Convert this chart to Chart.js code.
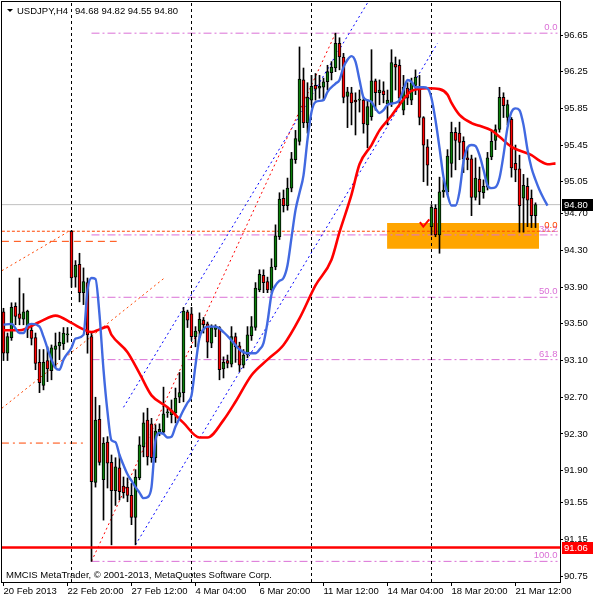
<!DOCTYPE html>
<html>
<head>
<meta charset="utf-8">
<script src="https://cdn.jsdelivr.net/npm/chart.js@4.4.0/dist/chart.umd.min.js"></script>
<style>
  html, body { margin: 0; padding: 0; background: #fff; }
  canvas { display: block; }
</style>
</head>
<body>
<canvas id="chart" width="600" height="600"></canvas>
<script>
// USDJPY H4 bars, index 0 = 20 Feb 2013 04:00
const opens = [
  93.63, 93.18, 93.35, 93.69, 93.61, 93.55, 93.44, 93.43, 93.35, 93.08,
  92.83, 93.10, 92.99, 93.22, 93.26, 93.28, 93.38, 94.51, 94.01, 94.15,
  93.84, 93.95, 93.36, 91.77, 92.46, 91.80, 92.21, 91.99, 91.68, 91.93,
  91.73, 91.72, 91.63, 91.39, 91.82, 92.16, 92.45, 92.41, 92.04, 92.32,
  92.32, 92.53, 92.51, 92.53, 92.70, 92.75, 93.63, 93.61, 93.36, 93.42,
  93.54, 93.50, 93.29, 93.44, 93.46, 93.01, 93.10, 93.06, 93.36, 93.26,
  93.05, 93.16, 93.37, 93.46, 93.87, 94.03, 93.96, 93.87, 94.12, 94.45,
  94.87, 94.79, 94.98, 95.29, 95.49, 96.16, 95.69, 95.94, 96.10, 96.07,
  96.08, 96.14, 96.24, 96.29, 96.56, 96.41, 95.98, 96.02, 95.94, 95.94,
  95.94, 95.67, 95.76, 96.15, 96.02, 96.04, 95.90, 95.91, 96.33, 96.32,
  95.83, 96.07, 95.94, 96.10, 96.07, 95.75, 95.43, 94.56, 94.76, 94.47,
  94.94, 94.94, 95.25, 95.59, 95.58, 95.49, 95.31, 95.30, 94.88, 95.08,
  94.93, 94.99, 95.32, 95.50, 95.62, 95.97, 95.75, 95.73, 95.25, 95.19,
  94.87, 95.00, 94.87, 94.68
];
const highs = [
  93.67, 93.40, 93.73, 93.73, 94.00, 93.83, 93.65, 93.47, 93.40, 93.22,
  93.22, 93.25, 93.27, 93.40, 93.41, 93.46, 93.46, 94.52, 94.19, 94.27,
  94.11, 94.00, 93.40, 92.70, 92.61, 92.26, 92.27, 92.07, 92.04, 92.07,
  91.83, 91.82, 91.76, 91.91, 92.27, 92.53, 92.58, 92.47, 92.40, 92.41,
  92.81, 92.59, 92.67, 92.80, 92.97, 93.68, 93.65, 93.68, 93.47, 93.62,
  93.57, 93.52, 93.49, 93.49, 93.47, 93.14, 93.16, 93.47, 93.40, 93.30,
  93.22, 93.47, 93.58, 93.95, 94.09, 94.09, 94.01, 94.21, 94.58, 94.93,
  94.96, 95.09, 95.37, 95.61, 96.52, 96.29, 96.13, 96.21, 96.23, 96.21,
  96.18, 96.32, 96.36, 96.67, 96.62, 96.45, 96.08, 96.08, 96.02, 96.05,
  95.97, 95.94, 96.49, 96.17, 96.16, 96.14, 96.05, 96.49, 96.41, 96.38,
  96.21, 96.13, 96.18, 96.27, 96.21, 95.76, 95.51, 94.80, 94.80, 95.10,
  95.07, 95.40, 95.70, 95.64, 95.70, 95.54, 95.43, 95.34, 95.31, 95.21,
  95.07, 95.37, 95.61, 95.67, 96.08, 96.02, 95.94, 95.75, 95.45, 95.34,
  95.13, 95.09, 94.96, 94.82
];
const lows = [
  93.10, 93.10, 93.32, 93.49, 93.49, 93.49, 93.35, 93.27, 93.00, 92.75,
  92.78, 92.87, 92.89, 93.03, 93.11, 93.22, 93.30, 93.90, 93.90, 93.74,
  93.71, 93.18, 90.91, 91.72, 91.96, 91.36, 91.71, 91.09, 91.52, 91.58,
  91.60, 91.56, 91.31, 91.09, 91.80, 92.05, 91.96, 91.99, 91.99, 92.28,
  92.31, 92.48, 92.42, 92.42, 92.64, 92.65, 93.46, 93.32, 93.25, 93.35,
  93.40, 93.13, 93.24, 93.36, 92.89, 92.91, 93.02, 93.03, 93.08, 92.98,
  93.02, 93.13, 93.32, 93.43, 93.85, 93.84, 93.84, 93.84, 94.09, 94.42,
  94.72, 94.74, 94.94, 95.25, 95.45, 95.64, 95.58, 95.89, 95.94, 95.96,
  95.94, 96.05, 96.16, 96.25, 96.27, 95.91, 95.64, 95.67, 95.56, 95.81,
  95.58, 95.42, 95.72, 95.83, 95.89, 95.91, 95.67, 95.87, 96.05, 95.89,
  95.78, 95.89, 95.89, 96.00, 95.67, 95.05, 95.01, 94.47, 94.45, 94.27,
  94.88, 94.91, 95.10, 95.18, 95.29, 95.15, 95.18, 94.68, 94.85, 94.80,
  94.87, 94.96, 95.29, 95.40, 95.59, 95.75, 95.67, 95.10, 95.05, 94.50,
  94.50, 94.56, 94.55, 94.55
];
const closes = [
  93.18, 93.36, 93.68, 93.58, 93.56, 93.63, 93.64, 93.34, 93.07, 92.86,
  93.08, 93.01, 93.24, 93.26, 93.30, 93.40, 93.39, 94.00, 94.14, 93.84,
  93.96, 93.38, 91.78, 92.45, 91.99, 92.20, 91.98, 91.68, 91.94, 91.67,
  91.66, 91.63, 91.39, 91.83, 92.18, 92.42, 92.05, 92.04, 92.33, 92.35,
  92.52, 92.54, 92.56, 92.69, 92.75, 93.64, 93.54, 93.36, 93.42, 93.55,
  93.49, 93.30, 93.46, 93.47, 93.00, 93.08, 93.07, 93.36, 93.25, 93.05,
  93.16, 93.38, 93.47, 93.89, 94.04, 93.95, 93.87, 94.12, 94.46, 94.86,
  94.79, 94.98, 95.30, 95.52, 96.17, 95.69, 95.97, 96.09, 96.06, 96.09,
  96.14, 96.25, 96.30, 96.56, 96.41, 95.97, 96.03, 95.91, 95.92, 95.95,
  95.68, 95.87, 96.15, 96.02, 96.05, 96.00, 95.94, 96.35, 96.30, 95.96,
  96.08, 95.96, 96.13, 96.19, 95.75, 95.45, 95.23, 94.77, 94.47, 94.94,
  94.96, 95.33, 95.59, 95.50, 95.48, 95.30, 95.29, 94.88, 95.09, 94.94,
  95.00, 95.31, 95.49, 95.62, 95.97, 95.88, 95.89, 95.20, 95.18, 94.79,
  95.01, 94.85, 94.68, 94.80
];

// moving averages (bar index, price)
const fastBars = [0, 2, 4, 5, 6, 7, 9, 10, 12, 13, 14, 15, 17, 18, 20, 21, 22, 23, 24, 25,
  26, 27, 28, 29, 30, 31, 32, 33, 34, 35, 36, 37, 38, 39, 40, 41, 42, 43, 44, 45,
  46, 47, 48, 49, 50, 51, 53, 55, 57, 59, 61, 63, 64, 65, 66, 67, 68, 69, 70, 71,
  72, 73, 74, 75, 76, 77, 78, 80, 81, 83, 84, 85, 86, 87, 88, 89, 90, 91, 92, 93,
  94, 95, 96, 98, 99, 100, 101, 102, 103, 105, 106, 107, 108, 109, 110, 111, 112, 113, 114, 115,
  116, 117, 118, 119, 120, 121, 122, 123, 124, 125, 126, 127, 128, 129, 130, 131, 132, 133, 134, 135, 136];
const fastVals = [93.49, 93.50, 93.40, 93.40, 93.48, 93.50, 93.47, 93.36, 93.11, 93.02, 93.00, 93.11, 93.24, 93.34, 93.38, 93.87, 94.00, 93.99, 93.60, 93.00,
  92.54, 92.23, 92.21, 92.07, 91.96, 91.86, 91.79, 91.72, 91.66, 91.60, 91.61, 91.72, 92.23, 92.31, 92.30, 92.26, 92.27, 92.38, 92.47, 92.56,
  92.64, 92.72, 93.05, 93.35, 93.44, 93.47, 93.47, 93.41, 93.32, 93.22, 93.18, 93.18, 93.22, 93.29, 93.52, 93.82, 93.92, 93.97, 94.00, 94.14,
  94.44, 94.74, 94.93, 95.12, 95.51, 95.81, 95.92, 95.94, 96.03, 96.12, 96.16, 96.30, 96.38, 96.42, 96.36, 96.16, 95.97, 95.94, 95.92, 95.85,
  95.80, 95.83, 95.89, 95.91, 95.94, 96.05, 96.16, 96.14, 96.08, 96.08, 96.07, 95.96, 95.72, 95.42, 95.10, 94.91, 94.79, 94.79, 94.94, 95.27,
  95.42, 95.45, 95.44, 95.34, 95.18, 95.01, 94.98, 94.99, 95.09, 95.34, 95.64, 95.81, 95.85, 95.83, 95.67, 95.40, 95.20, 95.07, 94.96, 94.87, 94.79];
const slowBars = [0, 4, 9, 13, 17, 20, 22, 24, 26, 27, 31, 34, 37, 41, 45, 49, 51, 55, 58, 62,
  66, 70, 74, 78, 82, 84, 87, 89, 92, 94, 97, 99, 102, 106, 109, 111, 112, 114, 117, 119,
  122, 124, 127, 129, 132, 134, 136, 138];
const slowVals = [93.43, 93.43, 93.52, 93.59, 93.51, 93.44, 93.41, 93.44, 93.47, 93.38, 93.19, 92.96, 92.72, 92.59, 92.42, 92.26, 92.26, 92.45, 92.65, 92.94,
  93.11, 93.27, 93.56, 93.92, 94.20, 94.50, 94.91, 95.24, 95.45, 95.61, 95.77, 95.89, 96.04, 96.07, 96.06, 96.00, 95.91, 95.78, 95.69, 95.66,
  95.61, 95.54, 95.43, 95.39, 95.34, 95.28, 95.24, 95.25];

// x axis labels
const tickBars = [0, 16, 32, 48, 64, 80, 96, 112, 128];
const tickLabels = ["20 Feb 2013", "22 Feb 20:00", "27 Feb 12:00", "4 Mar 04:00", "6 Mar 20:00",
  "11 Mar 12:00", "14 Mar 04:00", "18 Mar 20:00", "21 Mar 12:00"];
// price axis labels
const priceTicks = [96.65, 96.25, 95.85, 95.45, 95.05, 94.70, 94.30, 93.90, 93.50, 93.10,
  92.70, 92.30, 91.90, 91.55, 91.15, 90.75];
// week separators (bar index)
const weekStarts = [17, 47, 77, 107];

// objects drawn on the chart
const fibLevels = [96.67, 94.47, 93.79, 93.11, 90.91];
const fibNames = ["0.0", "38.2", "50.0", "61.8", "100.0"];
const fibFrom = 22, fibTo = 138.5;
const orangeLevels = [94.51, 94.40, 92.20];
const orangeFrom = [-0.4, -0.4, -0.4];
const orangeTo = [138.5, 28.3, 20];
const supportLevel = 91.06;
const zoneTop = 94.60, zoneBottom = 94.32, zoneFrom = 95.9, zoneTo = 133.9;
const trendLines = [
  { from: [22, 90.91], to: [83, 96.67], color: '#ff0000' },
  { from: [33, 91.09], to: [108.5, 96.56], color: '#0000ff' },
  { from: [30, 92.59], to: [91, 97.00], color: '#0000ff' },
  { from: [-0.4, 94.08], to: [16, 94.50], color: '#ff4500' },
  { from: [-0.4, 92.58], to: [40.5, 94.01], color: '#ff4500' }
];
const checkBars = [104.1, 104.95, 106.45];
const checkVals = [94.61, 94.56, 94.64];

const xMin = -0.375, xMax = 139.125;
const yMin = 90.685, yMax = 97.01;
const FONT = '9.5px "Liberation Sans", Arial, sans-serif';
const FIB_COLOR = 'rgb(218,112,214)';

const last = closes.length - 1;
const bars = closes.map((c, i) => i);

function flat(v, a, b) { return [{ x: a, y: v }, { x: b, y: v }]; }
function lineDs(data, color, width, dash, order, extra) {
  return Object.assign({
    type: 'line', data: data, borderColor: color, borderWidth: width,
    borderDash: dash, pointRadius: 0, fill: false, order: order, tension: 0
  }, extra || {});
}

const datasets = [];
// zone rectangle
datasets.push(lineDs(flat(zoneTop, zoneFrom, zoneTo), 'rgba(0,0,0,0)', 0, [], 40,
  { fill: { target: { value: zoneBottom } }, backgroundColor: '#ffa500' }));
// fib levels
fibLevels.forEach(v => datasets.push(lineDs(flat(v, fibFrom, fibTo), FIB_COLOR, 1, [8, 3, 2, 3], 30)));
// orange levels
datasets.push(lineDs(flat(orangeLevels[0], orangeFrom[0], orangeTo[0]), '#ff4500', 1, [3, 2], 30));
datasets.push(lineDs(flat(orangeLevels[1], orangeFrom[1], orangeTo[1]), '#ff4500', 1, [7, 5], 30));
datasets.push(lineDs(flat(orangeLevels[2], orangeFrom[2], orangeTo[2]), '#ff4500', 1, [7, 4, 2, 4], 30));
// current price line
datasets.push(lineDs(flat(closes[last], xMin, xMax), '#c0c0c0', 1, [], 31));
// trend lines
trendLines.forEach(t => datasets.push(lineDs([{ x: t.from[0], y: t.from[1] }, { x: t.to[0], y: t.to[1] }], t.color, 1, [2, 3], 28)));
// week separators
weekStarts.forEach(b => datasets.push(lineDs([{ x: b, y: yMin }, { x: b, y: yMax }], '#000', 1, [3, 3], 26)));
// candles
datasets.push({
  type: 'bar', data: bars.map(i => ({ x: i, y: [lows[i], highs[i]] })),
  backgroundColor: '#000', barThickness: 1, grouped: false, order: 20
});
datasets.push({
  type: 'bar', data: bars.map(i => ({ x: i, y: [opens[i], closes[i]] })),
  backgroundColor: bars.map(i => closes[i] >= opens[i] ? '#0a7f0a' : '#ff0000'),
  borderColor: '#000', borderWidth: 1, borderSkipped: false, minBarLength: 1,
  barThickness: 3, grouped: false, order: 19
});
// support line
datasets.push(lineDs(flat(supportLevel, xMin, xMax), '#ff0000', 2.5, [], 10));
// moving averages
datasets.push(lineDs(slowBars.map((b, i) => ({ x: b, y: slowVals[i] })), '#ff0000', 2.6, [], 8,
  { cubicInterpolationMode: 'monotone' }));
datasets.push(lineDs(fastBars.map((b, i) => ({ x: b, y: fastVals[i] })), '#4169e1', 2.4, [], 7,
  { cubicInterpolationMode: 'monotone' }));
// check mark
datasets.push(lineDs(checkBars.map((b, i) => ({ x: b, y: checkVals[i] })), '#ff0000', 2, [], 5));

const overlay = {
  id: 'overlay',
  afterDraw(chart) {
    const ctx = chart.ctx, a = chart.chartArea;
    const x = chart.scales.x, y = chart.scales.y;
    ctx.save();
    ctx.strokeStyle = '#000';
    ctx.lineWidth = 1;
    ctx.strokeRect(a.left - 0.5, a.top - 0.5, a.right - a.left + 1, a.bottom - a.top + 1);

    ctx.font = FONT;
    // fib labels
    ctx.textAlign = 'right';
    ctx.textBaseline = 'bottom';
    ctx.fillStyle = FIB_COLOR;
    fibLevels.forEach((v, i) => ctx.fillText(fibNames[i], x.getPixelForValue(fibTo), y.getPixelForValue(v) - 1));
    ctx.fillStyle = '#ff4500';
    ctx.fillText('0.0', x.getPixelForValue(fibTo), y.getPixelForValue(orangeLevels[0]) - 1);

    // title
    ctx.textAlign = 'left';
    ctx.textBaseline = 'middle';
    ctx.fillStyle = '#000';
    ctx.beginPath();
    ctx.moveTo(7, 9); ctx.lineTo(13, 9); ctx.lineTo(10, 12); ctx.closePath();
    ctx.fill();
    ctx.fillText('USDJPY,H4', 17, 11);
    ctx.fillText([opens[last], highs[last], lows[last], closes[last]].map(v => v.toFixed(2)).join(' '), 75, 11);
    ctx.fillText('MMCIS MetaTrader, \u00a9 2001-2013, MetaQuotes Software Corp.', 6, 575);

    // price boxes on the axis
    [[closes[last], '#000'], [supportLevel, '#ff0000']].forEach(([v, c]) => {
      const py = Math.round(y.getPixelForValue(v));
      ctx.fillStyle = c;
      ctx.fillRect(a.right + 2, py - 6, 31, 12);
      ctx.fillStyle = '#fff';
      ctx.fillText(v.toFixed(2), a.right + 4, py);
    });
    ctx.restore();
  }
};

new Chart(document.getElementById('chart'), {
  type: 'bar',
  data: { datasets: datasets },
  options: {
    responsive: false,
    animation: false,
    devicePixelRatio: 1,
    layout: { padding: { top: 2, left: 2, right: 0, bottom: 0 } },
    plugins: { legend: { display: false }, tooltip: { enabled: false } },
    scales: {
      x: {
        type: 'linear', min: xMin, max: xMax, offset: false,
        afterBuildTicks: s => { s.ticks = tickBars.map(v => ({ value: v })); },
        afterFit: s => { s.height = 18; s.paddingLeft = 0; s.paddingRight = 0; },
        ticks: {
          autoSkip: false, maxRotation: 0, align: 'start', padding: 0, color: '#000',
          font: { family: '"Liberation Sans", Arial, sans-serif', size: 9.5 },
          callback: v => tickLabels[tickBars.indexOf(v)]
        },
        grid: { display: true, drawOnChartArea: false, drawTicks: true, tickLength: 4, color: '#000', offset: false },
        border: { display: true, color: '#000' }
      },
      y: {
        type: 'linear', position: 'right', min: yMin, max: yMax,
        afterBuildTicks: s => { s.ticks = priceTicks.map(v => ({ value: v })); },
        afterFit: s => { s.width = 40; s.paddingTop = 0; s.paddingBottom = 0; },
        ticks: {
          autoSkip: false, padding: 1, color: '#000',
          font: { family: '"Liberation Sans", Arial, sans-serif', size: 9.5 },
          callback: v => v.toFixed(2)
        },
        grid: { display: true, drawOnChartArea: false, drawTicks: true, tickLength: 3, color: '#000' },
        border: { display: true, color: '#000' }
      }
    }
  },
  plugins: [overlay]
});
</script>
</body>
</html>
